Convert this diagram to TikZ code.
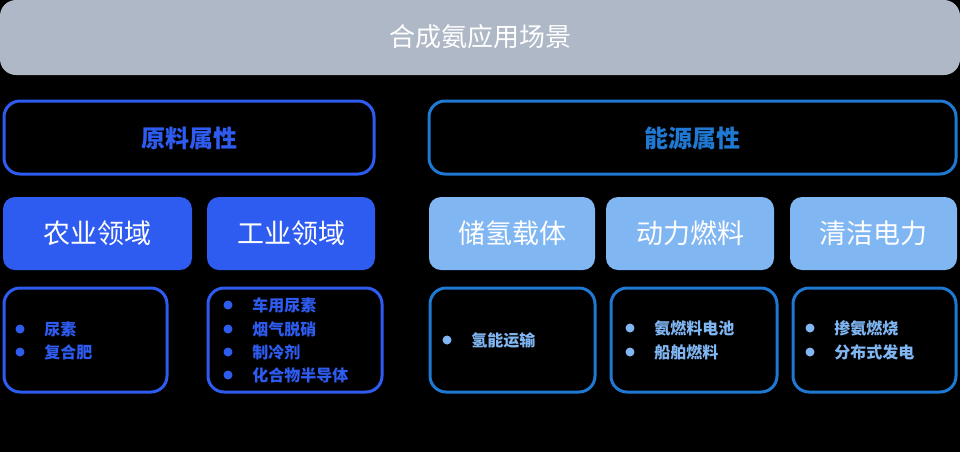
\documentclass[tikz,border=0pt]{standalone}
\usepackage{fontspec}
\newfontfamily\cjk{Noto Sans CJK SC}
\usetikzlibrary{positioning}
\definecolor{bargrey}{RGB}{174, 184, 198}
\definecolor{deepblue}{RGB}{47, 92, 240}
\definecolor{skyblue}{RGB}{31, 120, 209}
\definecolor{paleblue}{RGB}{128, 182, 242}
\tikzset{
  panel/.style={draw=#1, line width=1.5pt, rounded corners=8pt},
  tile/.style={fill=#1, rounded corners=6pt},
  dot/.style={circle, fill=#1, inner sep=0pt, minimum size=4.5pt},
  item/.style={text=#1, font=\cjk\fontsize{8}{10}\selectfont\bfseries, anchor=west, inner sep=0pt}
}
\begin{document}
\begin{tikzpicture}[x=0.5pt, y=-0.5pt]
  \fill[black] (0,0) rectangle (960,452);
  \useasboundingbox (0,0) rectangle (960,452);
  % title bar
  \fill[bargrey, rounded corners=8pt] (0,0) rectangle (960,75);
  \node[text=white, font=\cjk\fontsize{13}{15}\selectfont] (title) at (480,37) {合成氨应用场景};
  % attribute rows
  \draw[panel=deepblue] (4,101) rectangle (374,174);
  \node[text=deepblue, font=\cjk\fontsize{12}{14}\selectfont\bfseries] (raw) at (189,138) {原料属性};
  \draw[panel=skyblue] (429,101) rectangle (956,174);
  \node[text=skyblue, font=\cjk\fontsize{12}{14}\selectfont\bfseries] (energy) at (692,138) {能源属性};
  % field tiles
  \foreach \x/\w/\c/\t [count=\i] in {3/192/deepblue/农业领域, 207/375/deepblue/工业领域,
      429/595/paleblue/储氢载体, 606/774/paleblue/动力燃料, 790/957/paleblue/清洁电力} {
    \fill[tile=\c] (\x,197) rectangle (\w,270);
    \node[text=white, font=\cjk\fontsize{13.5}{15}\selectfont] (field\i) at ({(\x+\w)/2},233) {\t};
  }
  % detail panels
  \draw[panel=deepblue] (4,288) rectangle (167,392);
  \draw[panel=deepblue] (208,288) rectangle (382,392);
  \draw[panel=skyblue] (430,288) rectangle (595,392);
  \draw[panel=skyblue] (611,288) rectangle (777,392);
  \draw[panel=skyblue] (793,288) rectangle (956,392);
  % bullets
  \foreach \x/\y/\c/\t [count=\i] in {
      20/329/deepblue/尿素, 20/352/deepblue/复合肥,
      228/305/deepblue/车用尿素, 228/329/deepblue/烟气脱硝, 228/352/deepblue/制冷剂, 228/375/deepblue/化合物半导体,
      447/340/paleblue/氢能运输,
      630/328/paleblue/氨燃料电池, 630/352/paleblue/船舶燃料,
      810/328/paleblue/掺氨燃烧, 810/352/paleblue/分布式发电} {
    \node[dot=\c] (b\i) at (\x,\y) {};
    \node[item=\c] (t\i) at ({\x+24},\y) {\t};
  }
\end{tikzpicture}
\end{document}
